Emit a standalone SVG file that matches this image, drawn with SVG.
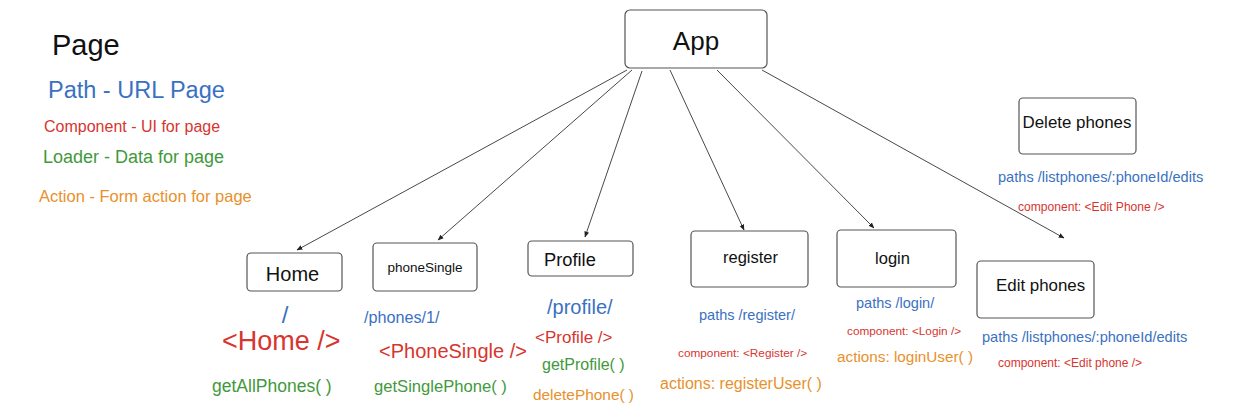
<svg xmlns="http://www.w3.org/2000/svg" width="1254" height="418" viewBox="0 0 1254 418">
<defs>
<marker id="arr" viewBox="0 0 10 10" refX="9" refY="5" markerWidth="6" markerHeight="6" markerUnits="userSpaceOnUse" orient="auto">
<path d="M0,1 L10,5 L0,9 z" fill="#222"/>
</marker>
</defs>
<style>
text{font-family:"Liberation Sans",Arial,Helvetica,sans-serif;}
.box{fill:#fff;stroke:#555;stroke-width:1.2;}
.lbl{fill:#111;}
.blue{fill:#3a71c2;}
.red{fill:#d7352f;}
.green{fill:#3f9a3b;}
.orange{fill:#e8912c;}
.edge{stroke:#333;stroke-width:0.9;fill:none;marker-end:url(#arr);}
</style>
<rect width="1254" height="418" fill="#fff"/>
<g id="legend">
<text x="52" y="55" font-size="29" class="lbl">Page</text>
<text x="48" y="98" font-size="23.5" class="blue">Path - URL Page</text>
<text x="44" y="132" font-size="16" class="red">Component - UI for page</text>
<text x="43" y="163" font-size="18" class="green">Loader - Data for page</text>
<text x="39" y="202" font-size="16.5" class="orange">Action - Form action for page</text>
</g>
<g id="connectors">
<line class="edge" x1="627" y1="70" x2="297" y2="250"/>
<line class="edge" x1="632" y1="70" x2="438" y2="240"/>
<line class="edge" x1="642" y1="71" x2="585" y2="237"/>
<line class="edge" x1="670" y1="70" x2="744" y2="230"/>
<line class="edge" x1="717" y1="70" x2="874" y2="228"/>
<line class="edge" x1="762" y1="70" x2="1064" y2="238"/>
</g>
<g id="app">
<rect class="box" x="625" y="10" width="142" height="58" rx="5"/>
<text x="696" y="50" font-size="26" text-anchor="middle" class="lbl">App</text>
</g>
<g id="home">
<rect class="box" x="247" y="253" width="95" height="38" rx="4"/>
<text x="292.5" y="281" font-size="20" text-anchor="middle" class="lbl">Home</text>
<text x="285" y="323" font-size="24" text-anchor="middle" class="blue">/</text>
<text x="222" y="350" font-size="27" class="red">&lt;Home /&gt;</text>
<text x="212" y="392" font-size="17.5" class="green">getAllPhones( )</text>
</g>
<g id="phoneSingle">
<rect class="box" x="373" y="243" width="104" height="48" rx="4"/>
<text x="425" y="272" font-size="13.5" text-anchor="middle" class="lbl">phoneSingle</text>
<text x="364" y="323" font-size="16.2" class="blue">/phones/1/</text>
<text x="379" y="358" font-size="20" class="red">&lt;PhoneSingle /&gt;</text>
<text x="374" y="392" font-size="16.6" class="green">getSinglePhone( )</text>
</g>
<g id="profile">
<rect class="box" x="528" y="241" width="105" height="35" rx="4"/>
<text x="544" y="266" font-size="18.3" class="lbl">Profile</text>
<text x="547" y="314" font-size="20" class="blue">/profile/</text>
<text x="535" y="343" font-size="17" class="red">&lt;Profile /&gt;</text>
<text x="542" y="370" font-size="16" class="green">getProfile( )</text>
<text x="533" y="400" font-size="15.4" class="orange">deletePhone( )</text>
</g>
<g id="register">
<rect class="box" x="691" y="231" width="117" height="56" rx="4"/>
<text x="750.5" y="263" font-size="16.5" text-anchor="middle" class="lbl">register</text>
<text x="699" y="320" font-size="14.5" class="blue">paths /register/</text>
<text x="678" y="357" font-size="11.8" class="red">component: &lt;Register /&gt;</text>
<text x="660" y="389" font-size="16" class="orange">actions: registerUser( )</text>
</g>
<g id="login">
<rect class="box" x="837" y="230" width="119" height="57" rx="4"/>
<text x="892.5" y="264" font-size="16.5" text-anchor="middle" class="lbl">login</text>
<text x="856" y="308" font-size="14.5" class="blue">paths /login/</text>
<text x="847" y="335" font-size="11.8" class="red">component: &lt;Login /&gt;</text>
<text x="837" y="362" font-size="15.3" class="orange">actions: loginUser( )</text>
</g>
<g id="editPhones">
<rect class="box" x="977" y="261" width="117" height="57" rx="4"/>
<text x="996" y="291" font-size="16.9" class="lbl">Edit phones</text>
<text x="982" y="342" font-size="14.6" class="blue">paths /listphones/:phoneId/edits</text>
<text x="998" y="367" font-size="12" class="red">component: &lt;Edit phone /&gt;</text>
</g>
<g id="deletePhones">
<rect class="box" x="1019" y="98" width="117" height="56" rx="4"/>
<text x="1077" y="128" font-size="16.9" text-anchor="middle" class="lbl">Delete phones</text>
<text x="998" y="182" font-size="14.6" class="blue">paths /listphones/:phoneId/edits</text>
<text x="1018" y="211" font-size="12.1" class="red">component: &lt;Edit Phone /&gt;</text>
</g>
</svg>
